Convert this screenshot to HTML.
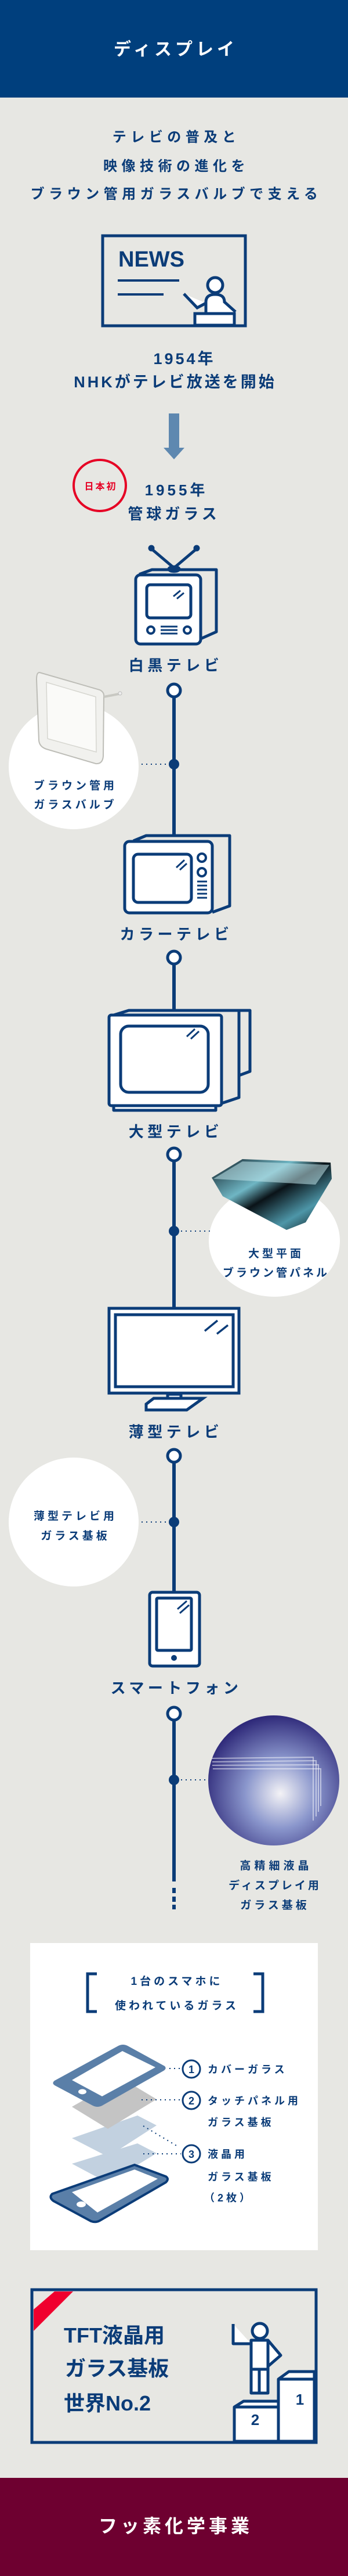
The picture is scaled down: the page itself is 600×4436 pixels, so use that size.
<!DOCTYPE html>
<html><head><meta charset="utf-8"><style>
html,body{margin:0;padding:0;background:#e7e7e3;}
svg{display:block;}
text{font-family:"Liberation Sans","Noto Sans CJK JP",sans-serif;font-weight:bold;}
</style></head><body>
<svg width="600" height="4436" viewBox="0 0 600 4436" xmlns="http://www.w3.org/2000/svg">
<defs>
<radialGradient id="bl" cx="0.55" cy="0.6" r="0.6">
<stop offset="0" stop-color="#f4f3f6"/><stop offset="0.45" stop-color="#8a96cc"/><stop offset="1" stop-color="#2f2a7a"/>
</radialGradient>
<linearGradient id="crt" x1="0" y1="0" x2="1" y2="1">
<stop offset="0" stop-color="#0d1a22"/><stop offset="0.35" stop-color="#6fb6c4"/><stop offset="0.5" stop-color="#0a1318"/><stop offset="0.75" stop-color="#4d96a8"/><stop offset="1" stop-color="#050a0d"/>
</linearGradient>
</defs>
<rect x="0" y="0" width="600" height="4436" fill="#e7e7e3"/>
<!-- header -->
<rect x="0" y="0" width="600" height="168" fill="#003f7d"/>
<text x="303" y="95" font-size="30" fill="#fff" text-anchor="middle" letter-spacing="6">ディスプレイ</text>

<g fill="#0b3c78" text-anchor="middle">
<text x="304" y="244" font-size="24" letter-spacing="7.5">テレビの普及と</text>
<text x="304" y="294" font-size="24" letter-spacing="7.5">映像技術の進化を</text>
<text x="304" y="342" font-size="24" letter-spacing="7.5">ブラウン管用ガラスバルブで支える</text>
</g>

<!-- NEWS -->
<g stroke="#0b3c78" fill="none">
<rect x="177" y="406" width="246" height="155" stroke-width="5"/>
<line x1="203" y1="483" x2="309" y2="483" stroke-width="4"/>
<line x1="203" y1="507" x2="282" y2="507" stroke-width="4"/>
<circle cx="371" cy="491" r="13" stroke-width="5" fill="#fff"/>
<path d="M355 540 V520 Q355 507 371 507 Q387 507 387 520 L406 537 M355 522 L340 530 L317 506" stroke-width="5" fill="#fff"/>
<rect x="336" y="540" width="68" height="20" stroke-width="5" fill="#fff"/>
</g>
<text x="204" y="459" font-size="38" fill="#0b3c78">NEWS</text>

<g fill="#0b3c78" text-anchor="middle">
<text x="318" y="627" font-size="27" letter-spacing="4">1954年</text>
<text x="302" y="667" font-size="27" letter-spacing="4">NHKがテレビ放送を開始</text>
</g>
<!-- arrow -->
<path d="M291 712 H309 V771 H318 L300 791 L282 771 H291 Z" fill="#5e88b0"/>
<ellipse cx="172" cy="836" rx="45" ry="44" fill="none" stroke="#e60024" stroke-width="4"/>
<text x="174" y="843" font-size="16" fill="#e60024" text-anchor="middle" letter-spacing="3">日本初</text>
<g fill="#0b3c78" text-anchor="middle">
<text x="304" y="853" font-size="26" letter-spacing="5">1955年</text>
<text x="300" y="894" font-size="26" letter-spacing="6">管球ガラス</text>
</g>

<!-- timeline lines -->
<g stroke="#0b3c78" stroke-width="6">
<line x1="300" y1="1195" x2="300" y2="1440"/>
<line x1="300" y1="1655" x2="300" y2="1740"/>
<line x1="300" y1="1995" x2="300" y2="2253"/>
<line x1="300" y1="2513" x2="300" y2="2742"/>
<line x1="300" y1="2957" x2="300" y2="3240"/>
<line x1="300" y1="3251" x2="300" y2="3260"/>
<line x1="300" y1="3266" x2="300" y2="3275"/>
<line x1="300" y1="3280" x2="300" y2="3288"/>
</g>
<!-- open nodes -->
<g fill="#fff" stroke="#0b3c78" stroke-width="5">
<circle cx="300" cy="1189" r="11"/>
<circle cx="300" cy="1649" r="11"/>
<circle cx="300" cy="1988" r="11"/>
<circle cx="300" cy="2507" r="11"/>
<circle cx="300" cy="2951" r="11"/>
</g>
<g fill="#0b3c78">
<circle cx="300" cy="1316" r="9"/>
<circle cx="300" cy="2120" r="9"/>
<circle cx="300" cy="2621" r="9"/>
<circle cx="300" cy="3065" r="9"/>
</g>
<g stroke="#0b3c78" stroke-width="2" stroke-dasharray="2 6">
<line x1="236" y1="1316" x2="290" y2="1316"/>
<line x1="312" y1="2120" x2="365" y2="2120"/>
<line x1="236" y1="2621" x2="290" y2="2621"/>
<line x1="312" y1="3065" x2="358" y2="3065"/>
</g>

<!-- TV1 -->
<g stroke="#0b3c78" stroke-width="5" fill="#fff" stroke-linejoin="round">
<line x1="300" y1="978" x2="261" y2="945"/><line x1="300" y1="978" x2="339" y2="945"/>
<circle cx="261" cy="944" r="3" fill="#0b3c78"/><circle cx="339" cy="944" r="3" fill="#0b3c78"/>
<ellipse cx="300" cy="980" rx="9" ry="4"/>
<path d="M240 989 L262 981 H373 V1088 L346 1100" fill="none"/>
<rect x="234" y="990" width="112" height="119" rx="8"/>
<rect x="253" y="1007" width="76" height="57" rx="6"/>
<circle cx="260" cy="1085" r="6" stroke-width="4"/><circle cx="323" cy="1085" r="6" stroke-width="4"/>
</g>
<g stroke="#0b3c78" stroke-width="3">
<line x1="277" y1="1079" x2="306" y2="1079"/><line x1="277" y1="1085" x2="306" y2="1085"/><line x1="277" y1="1091" x2="306" y2="1091"/>
<line x1="299" y1="1027" x2="311" y2="1017"/><line x1="305" y1="1031" x2="317" y2="1021"/>
</g>
<text x="303" y="1155" font-size="26" fill="#0b3c78" text-anchor="middle" letter-spacing="6.5">白黒テレビ</text>

<!-- bubble 1 -->
<ellipse cx="127" cy="1320" rx="112" ry="108" fill="#fff"/>
<g>
<path d="M68 1158 L172 1188 Q180 1192 179 1200 L178 1302 Q177 1316 165 1315 L80 1290 Q68 1286 67 1275 L63 1170 Q63 1158 68 1158 Z" fill="#f1f1ee" stroke="#bdbdb7" stroke-width="2"/>
<path d="M80 1175 L165 1200 L166 1295 L82 1272 Z" fill="#fafaf8" stroke="#d6d6d0" stroke-width="1.5"/>
<path d="M179 1200 L205 1195" stroke="#c8c8c2" stroke-width="4"/>
<circle cx="207" cy="1194" r="3" fill="#eee" stroke="#bbb"/>
</g>
<g fill="#0b3c78" text-anchor="middle">
<text x="130" y="1359" font-size="19" letter-spacing="5">ブラウン管用</text>
<text x="130" y="1392" font-size="19" letter-spacing="5">ガラスバルブ</text>
</g>

<!-- TV2 -->
<g stroke="#0b3c78" stroke-width="5" fill="#fff" stroke-linejoin="round">
<path d="M230 1448 L252 1439 H396 V1560 L366 1571" fill="none"/>
<rect x="215" y="1449" width="151" height="123" rx="8"/>
<rect x="230" y="1471" width="100" height="83" rx="8"/>
<circle cx="348" cy="1477" r="7" stroke-width="4"/><circle cx="348" cy="1502" r="7" stroke-width="4"/>
</g>
<g stroke="#0b3c78" stroke-width="3">
<line x1="340" y1="1518" x2="357" y2="1518"/><line x1="340" y1="1525" x2="357" y2="1525"/><line x1="340" y1="1532" x2="357" y2="1532"/><line x1="340" y1="1539" x2="357" y2="1539"/><line x1="340" y1="1546" x2="357" y2="1546"/>
<line x1="304" y1="1494" x2="318" y2="1481"/><line x1="310" y1="1498" x2="322" y2="1487"/>
</g>
<text x="304" y="1618" font-size="26" fill="#0b3c78" text-anchor="middle" letter-spacing="6.5">カラーテレビ</text>

<!-- TV3 -->
<g stroke="#0b3c78" stroke-width="5" fill="#fff" stroke-linejoin="round">
<path d="M196 1748 L222 1740 H431 V1845 L412 1852 V1890 L382 1900" fill="none"/>
<line x1="412" y1="1740" x2="412" y2="1852"/>
<rect x="196" y="1900" width="176" height="12"/>
<rect x="188" y="1748" width="194" height="156" rx="4"/>
<rect x="208" y="1767" width="151" height="114" rx="14"/>
</g>
<g stroke="#0b3c78" stroke-width="3">
<line x1="322" y1="1785" x2="336" y2="1772"/><line x1="329" y1="1789" x2="343" y2="1776"/>
</g>
<text x="303" y="1958" font-size="26" fill="#0b3c78" text-anchor="middle" letter-spacing="6.5">大型テレビ</text>

<!-- bubble 2 -->
<ellipse cx="473" cy="2137" rx="113" ry="96" fill="#fff"/>
<path d="M365 2028 L418 1996 L570 2002 L572 2030 L527 2105 L494 2118 L384 2060 Z" fill="url(#crt)"/>
<path d="M368 2030 L418 2000 L568 2006 L544 2040 Z" fill="#bfe3ea" opacity="0.55"/>
<g fill="#0b3c78" text-anchor="middle">
<text x="476" y="2165" font-size="19" letter-spacing="5">大型平面</text>
<text x="476" y="2198" font-size="19" letter-spacing="4">ブラウン管パネル</text>
</g>

<!-- flat TV -->
<g stroke="#0b3c78" stroke-width="5" fill="#fff">
<rect x="188" y="2253" width="224" height="146"/>
<rect x="199" y="2264" width="203" height="124"/>
<rect x="289" y="2401" width="23" height="10"/>
<path d="M252 2418 L265 2408 H350 L322 2428 H252 Z"/>
</g>
<g stroke="#0b3c78" stroke-width="3.5">
<line x1="353" y1="2292" x2="375" y2="2274"/><line x1="374" y1="2297" x2="393" y2="2282"/>
</g>
<text x="303" y="2475" font-size="26" fill="#0b3c78" text-anchor="middle" letter-spacing="6.5">薄型テレビ</text>

<!-- bubble 3 -->
<ellipse cx="127" cy="2621" rx="112" ry="111" fill="#fff"/>
<g fill="#0b3c78" text-anchor="middle">
<text x="130" y="2617" font-size="19" letter-spacing="5">薄型テレビ用</text>
<text x="130" y="2651" font-size="19" letter-spacing="5">ガラス基板</text>
</g>

<!-- phone -->
<g stroke="#0b3c78" stroke-width="5" fill="#fff">
<rect x="258" y="2742" width="86" height="127" rx="5"/>
<rect x="270" y="2752" width="60" height="90" rx="2"/>
</g>
<circle cx="300" cy="2855" r="5" fill="#0b3c78"/>
<g stroke="#0b3c78" stroke-width="3">
<line x1="306" y1="2771" x2="322" y2="2757"/><line x1="310" y1="2778" x2="326" y2="2764"/>
</g>
<text x="304" y="2916" font-size="26" fill="#0b3c78" text-anchor="middle" letter-spacing="6.5">スマートフォン</text>

<!-- bubble 4 -->
<ellipse cx="472" cy="3066" rx="113" ry="112" fill="url(#bl)"/>
<g fill="none" stroke="#ffffff" stroke-opacity="0.5" stroke-width="2">
<path d="M365 3028 L540 3026 L540 3135"/>
<path d="M366 3034 L545 3032 L545 3128"/>
<path d="M366 3040 L549 3039 L549 3120"/>
<path d="M367 3046 L553 3046 L553 3110"/>
</g>
<g fill="#0b3c78" text-anchor="middle">
<text x="476" y="3219" font-size="19" letter-spacing="6">高精細液晶</text>
<text x="474" y="3253" font-size="19" letter-spacing="4">ディスプレイ用</text>
<text x="474" y="3287" font-size="19" letter-spacing="5">ガラス基板</text>
</g>

<!-- white box -->
<rect x="52" y="3346" width="496" height="529" fill="#fff"/>
<g fill="none" stroke="#0b3c78" stroke-width="5">
<path d="M167 3399 H151 V3464 H167"/>
<path d="M437 3399 H453 V3464 H437"/>
</g>
<g fill="#0b3c78" text-anchor="middle">
<text x="305" y="3418" font-size="19" letter-spacing="5">1台のスマホに</text>
<text x="305" y="3460" font-size="19" letter-spacing="5">使われているガラス</text>
</g>
<!-- stack -->
<path d="M124 3726 L237 3691 L270 3708 L186 3759 Z" fill="#c2d1e0"/>
<path d="M124 3682 L237 3643 L270 3660 L186 3714 Z" fill="#c2d1e0"/>
<path d="M124 3628 L210 3579 L270 3615 L186 3666 Z" fill="#c4c4c4"/>
<path d="M90 3778 L232 3728 L286 3748 Q292 3752 286 3758 L172 3824 Q165 3828 157 3825 L92 3790 Q84 3784 90 3778 Z" fill="#5a7fa8" stroke="#0b3c78" stroke-width="4"/>
<path d="M124 3775 L232 3736 L272 3752 L168 3810 Z" fill="#fff"/>
<ellipse cx="140" cy="3796" rx="8" ry="5" fill="#fff"/>
<path d="M94 3583 L204 3523 Q212 3519 220 3523 L284 3558 Q288 3562 282 3566 L176 3626 Q168 3630 160 3626 L96 3592 Q88 3588 94 3583 Z" fill="#5a7fa8"/>
<path d="M124 3582 L211 3532 L268 3560 L176 3610 Z" fill="#fff"/>
<ellipse cx="142" cy="3602" rx="7" ry="4.5" fill="#fff"/>
<g stroke="#0b3c78" stroke-width="2" stroke-dasharray="2 6">
<line x1="292" y1="3562" x2="312" y2="3562"/>
<line x1="244" y1="3616" x2="312" y2="3616"/>
<line x1="247" y1="3661" x2="306" y2="3696"/>
<line x1="247" y1="3709" x2="312" y2="3709"/>
</g>
<g fill="none" stroke="#0b3c78" stroke-width="3">
<circle cx="330" cy="3563" r="15"/><circle cx="330" cy="3617" r="15"/><circle cx="330" cy="3709" r="15"/>
</g>
<g fill="#0b3c78" font-size="18" text-anchor="middle">
<text x="330" y="3570">1</text><text x="330" y="3624">2</text><text x="330" y="3716">3</text>
</g>
<g fill="#0b3c78" font-size="18" letter-spacing="5">
<text x="358" y="3570">カバーガラス</text>
<text x="358" y="3624">タッチパネル用</text>
<text x="358" y="3661">ガラス基板</text>
<text x="358" y="3716">液晶用</text>
<text x="358" y="3755">ガラス基板</text>
<text x="352" y="3791">（2枚）</text>
</g>

<!-- TFT box -->
<rect x="55" y="3943" width="490" height="263" fill="none" stroke="#0b3c78" stroke-width="5"/>
<path d="M58 3977 L94 3946 H126 L58 4014 Z" fill="#f0002e"/>
<g fill="#0b3c78" font-size="36">
<text x="110" y="4034">TFT液晶用</text>
<text x="112" y="4091">ガラス基板</text>
<text x="110" y="4151">世界No.2</text>
</g>
<!-- podium -->
<g stroke="#0b3c78" stroke-width="5" fill="#fff" stroke-linejoin="round">
<path d="M480 4204 V4097 L498 4084 H542 V4204 Z"/>
<line x1="480" y1="4097" x2="542" y2="4097"/>
<path d="M404 4204 V4145 L420 4135 H480 V4204 Z"/>
<line x1="404" y1="4145" x2="480" y2="4145"/>
<path d="M402 4002 V4036 H433"/>
<path d="M462 4030 L484 4056 L462 4075"/>
<rect x="433" y="4030" width="29" height="91"/>
<line x1="433" y1="4080" x2="462" y2="4080"/>
<line x1="447" y1="4080" x2="447" y2="4121"/>
<circle cx="448" cy="4014" r="13"/>
</g>
<text x="440" y="4176" font-size="26" fill="#0b3c78" text-anchor="middle">2</text>
<text x="517" y="4141" font-size="26" fill="#0b3c78" text-anchor="middle">1</text>

<!-- footer -->
<rect x="0" y="4267" width="600" height="169" fill="#6e0030"/>
<text x="303" y="4361" font-size="32" fill="#fff" text-anchor="middle" letter-spacing="6">フッ素化学事業</text>
</svg>
</body></html>
